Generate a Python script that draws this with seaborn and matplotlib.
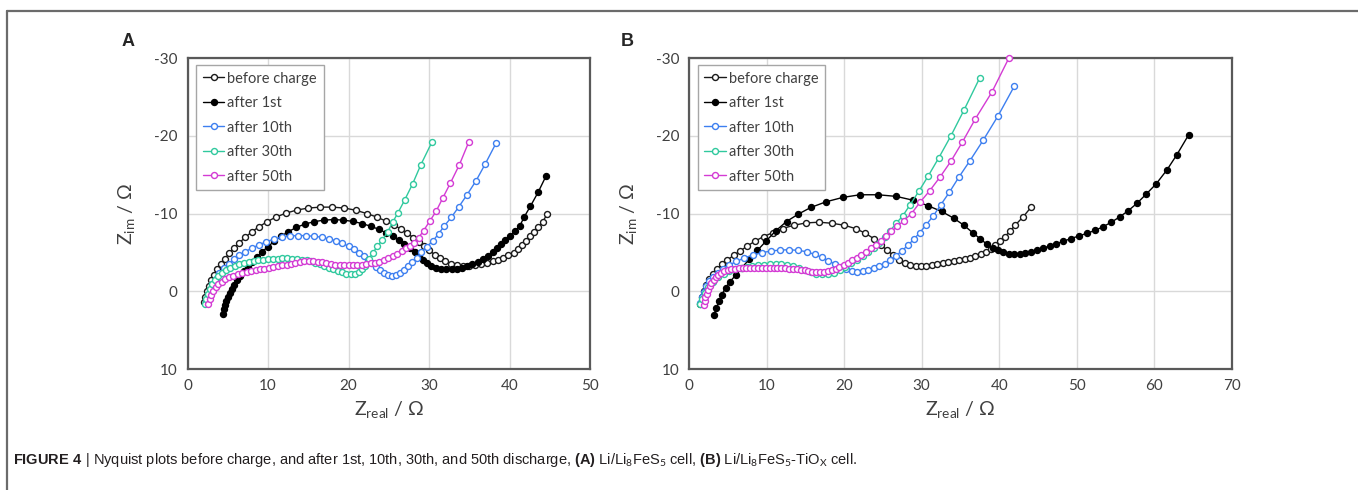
import matplotlib
matplotlib.use("Agg")
import matplotlib.pyplot as plt
from matplotlib.lines import Line2D
import seaborn as sns
import pandas as pd

# ---- panel A : Li/Li8FeS5 cell ----
A_before_x = [2.0, 2.2, 2.4, 2.65, 2.95, 3.3, 3.7, 4.15, 4.65, 5.2, 5.8, 6.45, 7.2, 8.0, 8.9, 9.9, 11.0, 12.25, 13.6, 15.0,
              16.5, 18.0, 19.5, 20.9, 22.25, 23.5, 24.6, 25.6, 26.5, 27.3, 28.05, 28.75, 29.4, 30.05, 30.7, 31.35, 32.0, 32.7,
              33.45, 34.2, 34.95, 35.7, 36.45, 37.2, 37.9, 38.6, 39.25, 39.85, 40.5, 41.05, 41.55, 42.05, 42.55, 43.05, 43.55,
              44.1, 44.67]
A_before_y = [1.4, 0.7, 0.0, -0.7, -1.4, -2.1, -2.8, -3.5, -4.2, -4.9, -5.6, -6.25, -6.95, -7.65, -8.3, -8.95, -9.55, -10.05,
              -10.45, -10.7, -10.82, -10.82, -10.7, -10.42, -10.0, -9.55, -9.05, -8.55, -8.0, -7.45, -6.9, -6.35, -5.8, -5.25,
              -4.72, -4.25, -3.85, -3.55, -3.38, -3.3, -3.3, -3.38, -3.5, -3.65, -3.85, -4.05, -4.3, -4.6, -4.95, -5.45, -5.95,
              -6.5, -7.05, -7.6, -8.2, -8.9, -9.9]

A_first_x = [4.38, 4.5, 4.65, 4.82, 5.02, 5.25, 5.5, 5.8, 6.15, 6.55, 7.0, 7.5, 8.05, 8.65, 9.3, 10.0, 10.75, 11.6, 12.5,
             13.5, 14.6, 15.75, 16.95, 18.15, 19.35, 20.55, 21.7, 22.8, 23.8, 24.7, 25.5, 26.25, 26.95, 27.6, 28.2, 28.75,
             29.25, 29.75, 30.3, 30.9, 31.5, 32.15, 32.8, 33.45, 34.1, 34.75, 35.4, 36.05, 36.7, 37.3, 37.9, 38.45, 38.95,
             39.5, 40.1, 40.7, 41.3, 41.85, 42.6, 43.56, 44.55]
A_first_y = [2.88, 2.3, 1.75, 1.2, 0.7, 0.2, -0.3, -0.85, -1.4, -1.95, -2.55, -3.15, -3.8, -4.45, -5.1, -5.75, -6.4, -7.05,
             -7.65, -8.2, -8.65, -8.95, -9.15, -9.22, -9.15, -8.98, -8.7, -8.35, -7.95, -7.5, -7.05, -6.6, -6.1, -5.6, -5.05,
             -4.5, -4.0, -3.6, -3.25, -3.0, -2.85, -2.8, -2.82, -2.9, -3.05, -3.25, -3.48, -3.75, -4.1, -4.5, -5.0, -5.55,
             -6.1, -6.6, -7.15, -7.75, -8.45, -9.6, -10.94, -12.74, -14.85]

A_10th_x = [2.3, 2.5, 2.75, 3.1, 3.5, 3.95, 4.5, 5.1, 5.75, 6.45, 7.2, 8.0, 8.85, 9.75, 10.7, 11.7, 12.7, 13.7, 14.7, 15.7,
            16.7, 17.6, 18.45, 19.25, 20.0, 20.7, 21.35, 21.9, 22.45, 22.95, 23.45, 23.95, 24.45, 24.95, 25.45, 25.95, 26.45,
            26.95, 27.45, 27.95, 28.5, 29.05, 29.75, 30.5, 31.2, 31.9, 32.77, 33.73, 34.72, 35.84, 37.0, 38.37]
A_10th_y = [1.3, 0.5, -0.2, -0.9, -1.6, -2.3, -2.95, -3.55, -4.1, -4.6, -5.1, -5.55, -5.95, -6.35, -6.7, -6.95, -7.1, -7.17,
            -7.15, -7.07, -6.95, -6.7, -6.5, -6.15, -5.8, -5.4, -4.95, -4.5, -4.05, -3.6, -3.15, -2.75, -2.4, -2.15, -2.02,
            -2.12, -2.4, -2.78, -3.2, -3.7, -4.3, -5.0, -5.75, -6.5, -7.4, -8.4, -9.5, -10.9, -12.4, -14.2, -16.4, -19.13]

A_30th_x = [2.15, 2.3, 2.5, 2.75, 3.05, 3.4, 3.8, 4.25, 4.75, 5.3, 5.85, 6.4, 7.0, 7.6, 8.2, 8.8, 9.4, 10.0, 10.6, 11.2,
            11.8, 12.4, 13.0, 13.6, 14.2, 14.8, 15.35, 15.9, 16.45, 17.0, 17.55, 18.1, 18.65, 19.2, 19.75, 20.3, 20.8, 21.25,
            21.65, 22.05, 22.5, 23.0, 23.6, 24.2, 24.85, 25.5, 26.15, 26.96, 27.96, 29.0, 30.37]
A_30th_y = [1.67, 1.0, 0.35, -0.3, -0.9, -1.45, -1.95, -2.35, -2.7, -3.0, -3.25, -3.45, -3.62, -3.78, -3.9, -3.98, -4.05,
            -4.1, -4.15, -4.2, -4.22, -4.22, -4.2, -4.15, -4.08, -3.98, -3.85, -3.68, -3.48, -3.27, -3.05, -2.82, -2.6, -2.42,
            -2.28, -2.2, -2.25, -2.45, -2.8, -3.3, -4.1, -4.9, -5.8, -6.6, -7.6, -8.9, -10.1, -11.7, -13.8, -16.3, -19.2]

A_50th_x = [2.6, 2.75, 2.95, 3.2, 3.5, 3.85, 4.25, 4.7, 5.2, 5.7, 6.25, 6.8, 7.35, 7.9, 8.45, 9.0, 9.55, 10.1, 10.65, 11.2,
            11.75, 12.3, 12.85, 13.4, 13.95, 14.5, 15.05, 15.6, 16.15, 16.7, 17.25, 17.8, 18.35, 18.9, 19.45, 20.0, 20.55,
            21.1, 21.65, 22.2, 22.75, 23.3, 23.85, 24.4, 24.95, 25.5, 26.05, 26.6, 27.1, 27.6, 28.1, 28.7, 29.33, 30.08,
            30.87, 31.7, 32.65, 33.77, 34.93]
A_50th_y = [1.6, 1.0, 0.45, -0.05, -0.5, -0.9, -1.25, -1.55, -1.8, -2.0, -2.2, -2.35, -2.5, -2.62, -2.72, -2.82, -2.92,
            -3.02, -3.12, -3.22, -3.32, -3.42, -3.55, -3.65, -3.75, -3.85, -3.9, -3.9, -3.82, -3.7, -3.58, -3.48, -3.4, -3.35,
            -3.33, -3.33, -3.35, -3.38, -3.43, -3.5, -3.58, -3.68, -3.82, -4.0, -4.22, -4.48, -4.78, -5.12, -5.5, -5.85,
            -6.2, -6.87, -7.8, -9.0, -10.26, -11.97, -13.9, -16.26, -19.17]

# ---- panel B : Li/Li8FeS5-TiOx cell ----
B_before_x = [1.43, 1.66, 1.9, 2.22, 2.6, 3.07, 3.63, 4.24, 4.94, 5.74, 6.58, 7.52, 8.55, 9.62, 10.8, 12.06, 13.51, 15.1,
              16.74, 18.38, 20.02, 21.47, 22.74, 23.82, 24.75, 25.55, 26.35, 27.1, 27.8, 28.5, 29.2, 29.9, 30.61, 31.31,
              32.01, 32.72, 33.42, 34.12, 34.82, 35.53, 36.23, 36.93, 37.63, 38.29, 38.9, 39.51, 40.12, 40.73, 41.38, 42.08,
              43.11, 44.14]
B_before_y = [1.64, 0.78, -0.09, -0.86, -1.59, -2.24, -2.89, -3.45, -4.01, -4.61, -5.17, -5.82, -6.47, -7.03, -7.54, -8.06,
              -8.49, -8.79, -8.88, -8.75, -8.49, -8.06, -7.46, -6.77, -5.95, -5.26, -4.61, -4.05, -3.62, -3.36, -3.23, -3.23,
              -3.28, -3.36, -3.45, -3.58, -3.71, -3.84, -3.97, -4.09, -4.27, -4.48, -4.74, -5.09, -5.47, -5.95, -6.47, -7.03,
              -7.72, -8.53, -9.61, -10.86]

B_first_x = [3.21, 3.54, 3.86, 4.24, 4.71, 5.27, 6.02, 6.81, 7.75, 8.83, 9.95, 11.17, 12.57, 14.07, 15.71, 17.68, 19.83,
             22.04, 24.38, 26.72, 28.83, 30.84, 32.57, 34.12, 35.43, 36.56, 37.5, 38.43, 39.13, 39.83, 40.54, 41.24, 41.94,
             42.64, 43.35, 44.14, 44.89, 45.69, 46.49, 47.33, 48.27, 49.2, 50.28, 51.31, 52.39, 53.42, 54.45, 55.53, 56.6,
             57.73, 58.95, 60.21, 61.61, 62.88, 64.42]
B_first_y = [3.02, 2.16, 1.29, 0.43, -0.43, -1.21, -2.07, -3.02, -4.09, -5.26, -6.47, -7.76, -8.97, -9.91, -10.78, -11.51,
             -12.07, -12.41, -12.41, -12.2, -11.72, -10.99, -10.26, -9.4, -8.49, -7.54, -6.77, -6.03, -5.6, -5.26, -5.0,
             -4.83, -4.74, -4.78, -4.91, -5.09, -5.3, -5.56, -5.82, -6.12, -6.42, -6.77, -7.11, -7.46, -7.84, -8.32, -8.88,
             -9.57, -10.34, -11.29, -12.5, -13.79, -15.6, -17.54, -20.13]

B_10th_x = [1.43, 1.66, 1.9, 2.22, 2.6, 3.07, 3.68, 4.38, 5.17, 6.11, 7.14, 8.22, 9.39, 10.56, 11.73, 12.9, 14.07, 15.15,
            16.18, 17.12, 17.96, 18.76, 19.55, 20.3, 21.0, 21.71, 22.41, 23.11, 23.82, 24.52, 25.22, 25.92, 26.63, 27.42,
            28.22, 28.97, 29.76, 30.56, 31.5, 32.43, 33.56, 34.78, 36.23, 37.96, 39.83, 41.94]
B_10th_y = [1.51, 0.78, 0.09, -0.65, -1.29, -1.85, -2.37, -2.89, -3.36, -3.84, -4.27, -4.66, -4.96, -5.17, -5.3, -5.34,
            -5.26, -5.09, -4.74, -4.35, -3.92, -3.53, -3.15, -2.84, -2.63, -2.54, -2.59, -2.72, -2.93, -3.19, -3.53, -3.97,
            -4.53, -5.17, -5.91, -6.68, -7.54, -8.53, -9.7, -11.08, -12.72, -14.66, -16.81, -19.48, -22.54, -26.38]

B_30th_x = [1.43, 1.66, 2.04, 2.5, 3.07, 3.77, 4.47, 5.17, 5.92, 6.67, 7.42, 8.17, 8.92, 9.67, 10.42, 11.17, 11.92, 12.67,
            13.42, 14.17, 14.92, 15.67, 16.42, 17.17, 17.91, 18.66, 19.41, 20.16, 20.91, 21.66, 22.41, 23.11, 23.82, 24.52,
            25.22, 25.92, 26.72, 27.56, 28.5, 29.62, 30.84, 32.2, 33.75, 35.48, 37.49]
B_30th_y = [1.64, 0.95, 0.22, -0.52, -1.21, -1.81, -2.24, -2.59, -2.84, -3.02, -3.15, -3.28, -3.36, -3.41, -3.45, -3.45,
            -3.45, -3.36, -3.23, -3.02, -2.76, -2.46, -2.24, -2.16, -2.24, -2.41, -2.72, -3.1, -3.58, -4.05, -4.53, -5.04,
            -5.6, -6.25, -6.98, -7.76, -8.75, -9.7, -11.12, -12.84, -14.83, -17.16, -19.96, -23.36, -27.46]

B_50th_x = [1.9, 2.0, 2.12, 2.27, 2.45, 2.66, 2.9, 3.17, 3.47, 3.8, 4.16, 4.55, 4.97, 5.42, 5.9, 6.4, 6.9, 7.4, 7.9, 8.4,
            8.9, 9.4, 9.9, 10.4, 10.9, 11.4, 11.9, 12.4, 12.9, 13.4, 13.9, 14.4, 14.9, 15.4, 15.9, 16.4, 16.9, 17.4, 17.9,
            18.4, 18.9, 19.4, 19.95, 20.5, 21.05, 21.6, 22.2, 22.8, 23.4, 24.05, 24.7, 25.4, 26.1, 26.85, 27.66, 28.69,
            29.76, 31.03, 32.34, 33.75, 35.25, 36.93, 39.04, 41.24]
B_50th_y = [1.72, 1.25, 0.78, 0.3, -0.17, -0.62, -1.05, -1.45, -1.8, -2.1, -2.35, -2.55, -2.7, -2.8, -2.88, -2.94, -2.98,
            -3.0, -3.02, -3.03, -3.03, -3.03, -3.02, -3.01, -3.0, -2.98, -2.96, -2.93, -2.9, -2.86, -2.8, -2.74, -2.67,
            -2.6, -2.54, -2.5, -2.49, -2.52, -2.6, -2.72, -2.9, -3.1, -3.38, -3.68, -4.0, -4.32, -4.7, -5.1, -5.52, -6.0,
            -6.52, -7.1, -7.7, -8.35, -9.05, -10.0, -11.42, -12.93, -14.66, -16.7, -19.2, -22.2, -25.6, -30.0]

SERIES = ["before charge", "after 1st", "after 10th", "after 30th", "after 50th"]
COLORS = {"before charge": "#1a1a1a", "after 1st": "#000000", "after 10th": "#3d7ff0",
          "after 30th": "#30c99e", "after 50th": "#d43bd4"}
FILLED = {"after 1st"}

PANEL_A = dict(zip(SERIES, [(A_before_x, A_before_y), (A_first_x, A_first_y), (A_10th_x, A_10th_y),
                            (A_30th_x, A_30th_y), (A_50th_x, A_50th_y)]))
PANEL_B = dict(zip(SERIES, [(B_before_x, B_before_y), (B_first_x, B_first_y), (B_10th_x, B_10th_y),
                            (B_30th_x, B_30th_y), (B_50th_x, B_50th_y)]))

sns.set_style("white")
plt.rcParams["font.family"] = ["Lato", "Noto Sans", "DejaVu Sans"]
plt.rcParams["mathtext.fontset"] = "custom"
plt.rcParams["mathtext.rm"] = "Lato"
plt.rcParams["mathtext.bf"] = "Liberation Sans:bold"
plt.rcParams["axes.unicode_minus"] = False

W, H = 1358, 490
fig = plt.figure(figsize=(W / 100, H / 100), dpi=100)
AX_TOP, AX_BOT = 58, 369
TXT = "#404040"
SPINE = "#595959"


def px_axes(left, right):
    return fig.add_axes([left / W, 1 - AX_BOT / H, (right - left) / W, (AX_BOT - AX_TOP) / H])


def draw_panel(ax, data, xmax):
    for name in SERIES:
        xs, ys = data[name]
        df = pd.DataFrame({"Zreal": xs, "Zim": ys})
        c = COLORS[name]
        sns.lineplot(data=df, x="Zreal", y="Zim", ax=ax, sort=False, estimator=None,
                     color=c, linewidth=1.0, marker="o", markersize=4.3, mew=1.0, mec=c,
                     markerfacecolor=c if name in FILLED else "white",
                     label=name, clip_on=False, zorder=3)

    ax.set_xlim(0, xmax)
    ax.set_ylim(10, -30)
    ax.set_xticks(range(0, xmax + 1, 10))
    ax.set_yticks([-30, -20, -10, 0, 10])
    ax.grid(True, color="#d9d9d9", linewidth=1.0)
    ax.set_axisbelow(True)
    for s in ax.spines.values():
        s.set_color(SPINE)
        s.set_linewidth(1.6)
    ax.tick_params(direction="out", length=4, width=1.2, color=SPINE,
                   labelsize=11, labelcolor=TXT, pad=3)

    w_px = ax.get_position().width * W
    h_px = AX_BOT - AX_TOP
    ax.set_xlabel("Z$_{\\mathrm{real}}$ / Ω", fontsize=14, color=TXT)
    ax.set_ylabel("Z$_{\\mathrm{im}}$ / Ω", fontsize=14, color=TXT)
    ax.xaxis.set_label_coords(0.5, -41 / h_px)
    ax.yaxis.set_label_coords(-60 / w_px, 0.5)
    ax.xaxis.label.set_va("center")
    ax.yaxis.label.set_va("center")

    ax.legend(loc="upper left", bbox_to_anchor=(8.5 / w_px, 1 - 7 / h_px), borderaxespad=0,
              frameon=True, fancybox=False, edgecolor="#a6a6a6", framealpha=1,
              fontsize=10.5, handlelength=1.5, handletextpad=0.2, labelspacing=0.72,
              borderpad=0.45, labelcolor=TXT)


ax_a = px_axes(187.5, 590)
draw_panel(ax_a, PANEL_A, 50)
ax_b = px_axes(689, 1232)
draw_panel(ax_b, PANEL_B, 70)

fig.text(128 / W, 1 - 41 / H, "A", fontsize=13, fontweight="bold", family="Liberation Sans",
         ha="center", va="center")
fig.text(627 / W, 1 - 41 / H, "B", fontsize=13, fontweight="bold", family="Liberation Sans",
         ha="center", va="center")

caption = ("$\\mathbf{FIGURE\\ 4}$ | Nyquist plots before charge, and after 1st, 10th, 30th, and 50th discharge, "
           "$\\mathbf{(A)}$ Li/Li$_{8}$FeS$_{5}$ cell, $\\mathbf{(B)}$ Li/Li$_{8}$FeS$_{5}$-TiO$_{\\mathrm{X}}$ cell.")
fig.text(13 / W, 1 - 460 / H, caption, fontsize=10.5, family="Liberation Sans", color="#231f20",
         ha="left", va="center")

# page frame (top and left rules)
fig.add_artist(Line2D([7 / W, 1], [1 - 11 / H, 1 - 11 / H], color="#6b6b6b", lw=1.6,
                      transform=fig.transFigure))
fig.add_artist(Line2D([7 / W, 7 / W], [0, 1 - 11 / H], color="#6b6b6b", lw=1.6,
                      transform=fig.transFigure))

fig.savefig("out.png", dpi=100)
